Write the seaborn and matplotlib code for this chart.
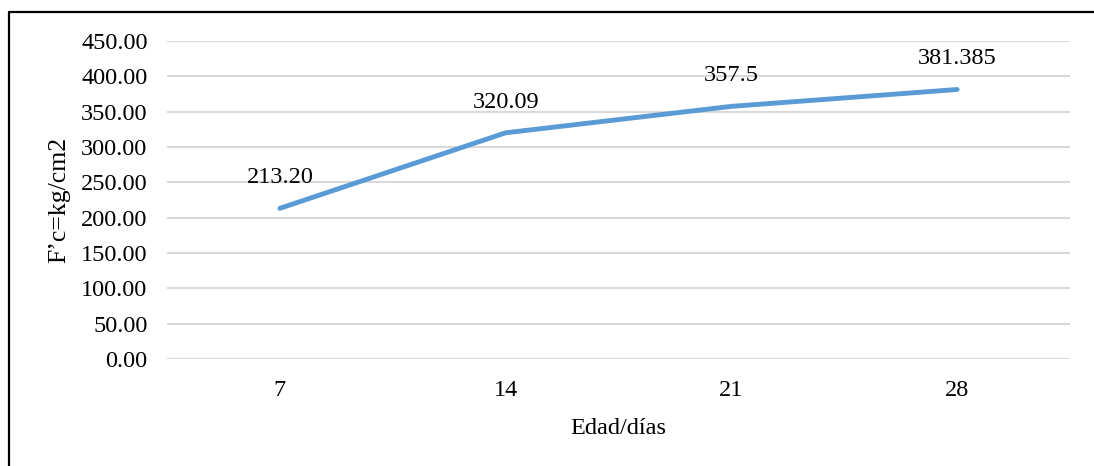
import matplotlib
matplotlib.use("Agg")
import matplotlib.pyplot as plt
import seaborn as sns
import pandas as pd
from matplotlib.lines import Line2D

# Compressive strength by curing age
edades = ["7", "14", "21", "28"]
resistencia = [213.20, 320.09, 357.5, 381.385]
etiquetas = ["213.20", "320.09", "357.5", "381.385"]
y_ticks = [0, 50, 100, 150, 200, 250, 300, 350, 400, 450]

df = pd.DataFrame({"edad": edades, "fc": resistencia})

sns.set_theme(style="white")
plt.rcParams["font.family"] = ["Liberation Serif", "DejaVu Serif"]

FS = 17.5

fig = plt.figure(figsize=(10.94, 4.66), dpi=100)
ax = fig.add_axes([167 / 1094, 1 - 359 / 466, (1070 - 167) / 1094, (359 - 41) / 466])

sns.lineplot(data=df, x="edad", y="fc", sort=False, ax=ax,
             color="#5B9BD5", linewidth=3.5, solid_capstyle="round",
             solid_joinstyle="round")

for i, (v, t) in enumerate(zip(resistencia, etiquetas)):
    ax.annotate(t, (i, v), xytext=(0, 18), textcoords="offset points",
                ha="center", va="baseline", fontsize=FS, color="#000000")

ax.set_xlim(-0.5, len(edades) - 0.5)
ax.set_ylim(0, 450)
ax.set_yticks(y_ticks)
ax.set_yticklabels([f"{v:.2f}" for v in y_ticks])
ax.grid(axis="y", color="#D9D9D9", linewidth=1.5)
ax.set_axisbelow(True)
for s in ax.spines.values():
    s.set_visible(False)
ax.tick_params(axis="both", length=0, labelsize=FS, colors="#000000")
ax.tick_params(axis="y", pad=14)
ax.tick_params(axis="x", pad=15)

ax.set_xlabel("Edad/días", fontsize=FS, color="#000000", labelpad=12)
ax.set_ylabel("F’c=kg/cm2", fontsize=FS + 1, color="#000000", labelpad=8)

# Outer frame (left and top edges)
fig.add_artist(Line2D([8.5 / 1094, 8.5 / 1094], [0, 1 - 11.5 / 466],
                      transform=fig.transFigure, color="#000000", linewidth=1.6))
fig.add_artist(Line2D([8.5 / 1094, 1], [1 - 11.5 / 466, 1 - 11.5 / 466],
                      transform=fig.transFigure, color="#000000", linewidth=1.6))

fig.savefig("out.png", dpi=100, facecolor="white")
